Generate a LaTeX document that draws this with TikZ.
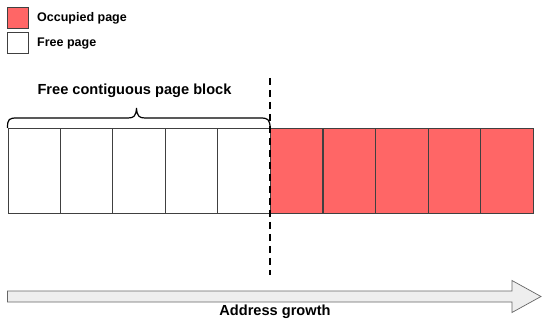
\documentclass[tikz,border=0pt]{standalone}
\usepackage{fontspec}
\setmainfont{Liberation Sans}
\definecolor{occ}{HTML}{FF6666}
\definecolor{arrowfill}{HTML}{EEEEEE}
\begin{document}
\begin{tikzpicture}[x=1pt,y=-1pt,
  page/.style={draw=black!75,line width=0.8pt,minimum width=52.4pt,minimum height=85pt,inner sep=0pt,anchor=north west},
  freepage/.style={page,fill=white},
  occpage/.style={page,fill=occ},
  legbox/.style={draw=black!75,line width=0.8pt,minimum size=21pt,inner sep=0pt,anchor=north west},
  lbl/.style={font=\bfseries\fontsize{12.5}{14}\selectfont,anchor=west,inner sep=0pt},
  biglbl/.style={font=\bfseries\fontsize{14.6}{17}\selectfont,inner sep=0pt}]
\useasboundingbox (0,0) rectangle (542,321);
% legend
\node[legbox,fill=occ] (lo) at (7,7.5) {};
\node[legbox,fill=white] (lf) at (7,32.5) {};
\node[lbl] (tlo) at (37,18) {Occupied page};
\node[lbl] (tlf) at (37,44) {Free page};
% pages
\foreach \i in {0,...,4}{
  \node[freepage] (f\i) at (7.5+52.4*\i,128) {};
  \node[occpage] (o\i) at (270+52.6*\i,128) {};
}
% brace
\draw[line width=1.2pt]
  (f0.north west) .. controls (7.5,119) and (9,118) .. (17,118) -- (128,118)
  .. controls (134,118) and (136,116) .. (136.5,108)
  .. controls (137,116) and (139,118) .. (145,118) -- (260,118)
  .. controls (268,118) and (269.5,119) .. (f4.north east);
\node[biglbl] (blk) at (134.5,91) {Free contiguous page block};
% dashed divider
\coordinate (dtop) at (270,78);
\coordinate (dbot) at (270,275);
\draw[line width=1.8pt,dash pattern=on 7pt off 5pt] (dtop) -- (dbot);
% address arrow
\draw[draw=black!60,fill=arrowfill,line width=0.7pt]
  (7.5,291) -- (512,291) -- (512,280.5) -- (541,296.5) -- (512,312.5) -- (512,302) -- (7.5,302) -- cycle;
\node[biglbl] (addr) at (275,312) {Address growth};
\end{tikzpicture}
\end{document}
